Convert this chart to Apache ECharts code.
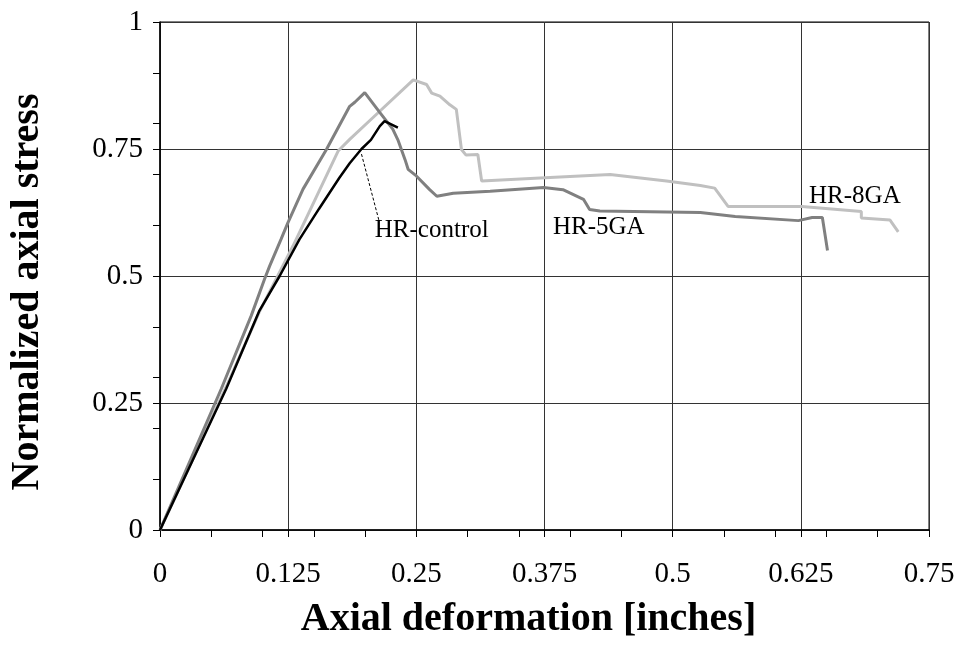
<!DOCTYPE html>
<html>
<head>
<meta charset="utf-8">
<script src="https://cdn.jsdelivr.net/npm/echarts@6/dist/echarts.min.js"></script>
<style>html,body{margin:0;padding:0;background:#fff;}#chart{width:958px;height:645px;}</style>
</head>
<body>
<div id="chart"></div>
<script>
// ---- data (Axial deformation [in], Normalized axial stress) ----
const hr8GA = [[0,0],[0.0646,0.282],[0.097,0.43],[0.1297,0.559],[0.1737,0.746],[0.185,0.769],[0.2078,0.812],[0.247,0.886],[0.26,0.877],[0.265,0.86],[0.273,0.854],[0.2827,0.837],[0.289,0.828],[0.294,0.749],[0.2985,0.738],[0.31,0.739],[0.3137,0.687],[0.3706,0.693],[0.439,0.70],[0.494,0.687],[0.527,0.678],[0.541,0.673],[0.554,0.637],[0.626,0.637],[0.684,0.627],[0.684,0.614],[0.712,0.61],[0.72,0.587]];
const hr5GA = [[0,0],[0.0598,0.278],[0.089,0.422],[0.102,0.494],[0.107,0.52],[0.118,0.572],[0.1248,0.605],[0.1395,0.671],[0.1623,0.749],[0.185,0.834],[0.19,0.842],[0.1997,0.861],[0.2143,0.822],[0.227,0.789],[0.232,0.768],[0.239,0.729],[0.242,0.71],[0.25,0.697],[0.263,0.67],[0.27,0.657],[0.286,0.663],[0.322,0.667],[0.374,0.674],[0.393,0.67],[0.413,0.651],[0.419,0.631],[0.429,0.628],[0.527,0.625],[0.561,0.617],[0.6226,0.609],[0.636,0.615],[0.646,0.615],[0.651,0.55]];
const hrControl = [[0,0],[0.0646,0.278],[0.097,0.432],[0.1167,0.5],[0.136,0.572],[0.155,0.632],[0.1748,0.693],[0.185,0.722],[0.1965,0.75],[0.2057,0.768],[0.2144,0.795],[0.219,0.805],[0.232,0.792]];
const seriesNames = ['HR-8GA','HR-5GA','HR-control'];
const labelPos = { 'HR-8GA':[0.633,0.657], 'HR-5GA':[0.3833,0.596], 'HR-control':[0.2095,0.59] };
const leader = [[0.1965,0.74],[0.2137,0.608]];
const xTicks = [0,0.125,0.25,0.375,0.5,0.625,0.75];
const xTickLabels = ['0','0.125','0.25','0.375','0.5','0.625','0.75'];
const yTicks = [0,0.25,0.5,0.75,1];
const yTickLabels = ['0','0.25','0.5','0.75','1'];

const FONT = '"Liberation Serif","Times New Roman",serif';
const chart = echarts.init(document.getElementById('chart'));
function lab(ticks, labels){ return v => { for (let i=0;i<ticks.length;i++) if (Math.abs(ticks[i]-v)<1e-6) return labels[i]; return ''; }; }
function mp(name){
  return { symbol:'circle', symbolSize:0, silent:true,
    label:{show:true, position:'right', distance:0, formatter:name, color:'#000', fontFamily:FONT, fontSize:25},
    data:[{coord:labelPos[name]}] };
}
chart.setOption({
  animation:false,
  backgroundColor:'#fff',
  grid:{left:160, right:29, top:22, bottom:113, show:true, borderColor:'#000', borderWidth:1, backgroundColor:'transparent'},
  xAxis:[
    {type:'value', min:0, max:0.75, interval:0.125, position:'bottom',
     name:'Axial deformation [inches]', nameLocation:'middle', nameGap:70,
     nameTextStyle:{fontFamily:FONT, fontSize:40, fontWeight:'bold', color:'#000', padding:[0,32,0,0]},
     axisLine:{show:true, lineStyle:{color:'#000', width:1.5}},
     axisTick:{show:true, length:7, lineStyle:{color:'#000'}},
     axisLabel:{fontFamily:FONT, fontSize:29, color:'#000', margin:30, formatter:lab(xTicks,xTickLabels)},
     splitLine:{show:true, lineStyle:{color:'#333', width:1}}},
    {type:'value', min:0, max:0.75, interval:0.05, position:'bottom',
     axisLine:{show:false}, axisTick:{show:true, length:7, lineStyle:{color:'#000'}},
     axisLabel:{show:false}, splitLine:{show:false}}
  ],
  yAxis:[
    {type:'value', min:0, max:1, interval:0.25, position:'left',
     name:'Normalized axial stress', nameLocation:'middle', nameGap:112, nameRotate:90,
     nameTextStyle:{fontFamily:FONT, fontSize:40, fontWeight:'bold', color:'#000', padding:[0,32,0,0]},
     axisLine:{show:true, lineStyle:{color:'#000', width:1.5}},
     axisTick:{show:true, length:7, lineStyle:{color:'#000'}},
     axisLabel:{fontFamily:FONT, fontSize:29, color:'#000', margin:17, formatter:lab(yTicks,yTickLabels)},
     splitLine:{show:true, lineStyle:{color:'#333', width:1}}},
    {type:'value', min:0, max:1, interval:0.1, position:'left',
     axisLine:{show:false}, axisTick:{show:true, length:7, lineStyle:{color:'#000'}},
     axisLabel:{show:false}, splitLine:{show:false}}
  ],
  series:[
    {name:seriesNames[0], type:'line', data:hr8GA, showSymbol:false, lineStyle:{color:'#c0c0c0', width:3}, itemStyle:{color:'#c0c0c0'}, markPoint:mp('HR-8GA')},
    {name:seriesNames[1], type:'line', data:hr5GA, showSymbol:false, lineStyle:{color:'#808080', width:3}, itemStyle:{color:'#808080'}, markPoint:mp('HR-5GA')},
    {name:seriesNames[2], type:'line', data:hrControl, showSymbol:false, lineStyle:{color:'#000', width:2.5}, itemStyle:{color:'#000'}, markPoint:mp('HR-control'),
     markLine:{silent:true, symbol:'none', label:{show:false}, lineStyle:{color:'#000', width:1, type:[3,2]},
       data:[[{coord:leader[0]},{coord:leader[1]}]]}}
  ]
});
</script>
</body>
</html>
